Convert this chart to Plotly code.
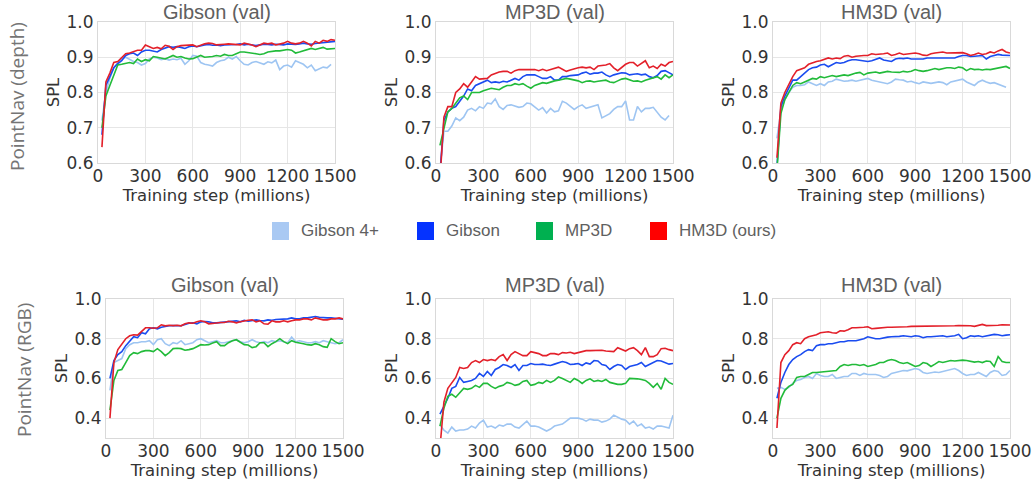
import plotly.graph_objects as go

# training steps (millions) at which each run was evaluated
STEPS = [25, 50, 75, 100, 125, 150, 175, 200, 225, 250,
         275, 300, 325, 350, 375, 400, 425, 450, 475, 500,
         525, 550, 575, 600, 625, 650, 675, 700, 725, 750,
         775, 800, 825, 850, 875, 900, 925, 950, 975, 1000,
         1025, 1050, 1075, 1100, 1125, 1150, 1175, 1200, 1225, 1250,
         1275, 1300, 1325, 1350, 1375, 1400, 1425, 1450, 1475, 1500]

METHODS = ["Gibson 4+", "Gibson", "MP3D", "HM3D (ours)"]
LINE_COLORS = ["#9ec5f2", "#1a4cf0", "#22bb3a", "#e3202a"]
LEGEND_COLORS = ["#a9c9f3", "#0533ff", "#00b050", "#ff0000"]

TITLES = ["Gibson (val)", "MP3D (val)", "HM3D (val)"]
ROW_LABELS = ["PointNav (depth)", "PointNav (RGB)"]
X_TICKS = [0, 300, 600, 900, 1200, 1500]
Y_TICKS_DEPTH = [0.6, 0.7, 0.8, 0.9, 1.0]
Y_TICKS_RGB = [0.4, 0.6, 0.8, 1.0]

# ---- PointNav (depth), Gibson val
depth_gibson_g4 = [0.720, 0.800, 0.840, 0.870, 0.885, 0.895, 0.900, 0.893, 0.888, 0.885,
                   0.878, 0.882, 0.895, 0.900, 0.898, 0.893, 0.896, 0.892, 0.895, 0.893,
                   0.897, 0.880, 0.890, 0.905, 0.903, 0.885, 0.880, 0.878, 0.875, 0.885,
                   0.890, 0.892, 0.900, 0.895, 0.902, 0.890, 0.880, 0.878, 0.885, 0.888,
                   0.885, 0.880, 0.887, 0.884, 0.892, 0.865, 0.875, 0.878, 0.872, 0.890,
                   0.885, 0.880, 0.870, 0.878, 0.862, 0.868, 0.872, 0.870, 0.880]
depth_gibson_gib = [0.680, 0.820, 0.845, 0.870, 0.882, 0.890, 0.905, 0.910, 0.912, 0.905,
                    0.915, 0.920, 0.920, 0.918, 0.915, 0.922, 0.925, 0.930, 0.928, 0.930,
                    0.928, 0.925, 0.930, 0.932, 0.930, 0.933, 0.935, 0.936, 0.934, 0.935,
                    0.933, 0.935, 0.935, 0.937, 0.936, 0.938, 0.935, 0.937, 0.934, 0.933,
                    0.935, 0.937, 0.936, 0.935, 0.937, 0.936, 0.935, 0.938, 0.937, 0.936,
                    0.938, 0.940, 0.938, 0.937, 0.939, 0.940, 0.940, 0.942, 0.944, 0.945]
depth_gibson_mp3d = [0.700, 0.790, 0.820, 0.850, 0.878, 0.880, 0.882, 0.885, 0.882, 0.895,
                     0.888, 0.893, 0.890, 0.902, 0.900, 0.898, 0.895, 0.900, 0.905, 0.900,
                     0.902, 0.898, 0.895, 0.896, 0.900, 0.905, 0.900, 0.900, 0.902, 0.905,
                     0.903, 0.908, 0.905, 0.905, 0.910, 0.915, 0.915, 0.914, 0.912, 0.910,
                     0.908, 0.910, 0.915, 0.917, 0.918, 0.918, 0.920, 0.922, 0.920, 0.912,
                     0.915, 0.918, 0.920, 0.925, 0.922, 0.925, 0.928, 0.923, 0.925, 0.925]
depth_gibson_hm3d = [0.645, 0.830, 0.855, 0.885, 0.888, 0.900, 0.910, 0.912, 0.915, 0.920,
                     0.920, 0.935, 0.930, 0.925, 0.928, 0.924, 0.934, 0.931, 0.922, 0.930,
                     0.933, 0.933, 0.934, 0.935, 0.930, 0.935, 0.938, 0.940, 0.939, 0.935,
                     0.935, 0.937, 0.938, 0.937, 0.938, 0.935, 0.940, 0.938, 0.935, 0.930,
                     0.935, 0.940, 0.938, 0.940, 0.935, 0.937, 0.940, 0.945, 0.940, 0.938,
                     0.940, 0.945, 0.940, 0.932, 0.945, 0.940, 0.948, 0.945, 0.950, 0.948]

# ---- PointNav (depth), MP3D val
depth_mp3d_g4 = [0.580, 0.690, 0.690, 0.705, 0.728, 0.720, 0.730, 0.750, 0.755, 0.748,
                 0.760, 0.755, 0.770, 0.768, 0.782, 0.760, 0.752, 0.763, 0.765, 0.762,
                 0.758, 0.760, 0.770, 0.768, 0.760, 0.750, 0.757, 0.742, 0.755, 0.745,
                 0.748, 0.775, 0.770, 0.760, 0.752, 0.760, 0.765, 0.755, 0.758, 0.760,
                 0.765, 0.728, 0.735, 0.740, 0.752, 0.760, 0.760, 0.776, 0.722, 0.722,
                 0.760, 0.745, 0.755, 0.755, 0.758, 0.745, 0.730, 0.722, 0.735]
depth_mp3d_gib = [0.570, 0.720, 0.745, 0.755, 0.760, 0.775, 0.790, 0.810, 0.805, 0.820,
                  0.825, 0.830, 0.835, 0.828, 0.830, 0.828, 0.832, 0.830, 0.835, 0.840,
                  0.835, 0.845, 0.850, 0.850, 0.850, 0.845, 0.840, 0.840, 0.845, 0.835,
                  0.835, 0.845, 0.845, 0.848, 0.850, 0.850, 0.855, 0.858, 0.852, 0.855,
                  0.855, 0.858, 0.850, 0.845, 0.850, 0.852, 0.856, 0.855, 0.850, 0.852,
                  0.853, 0.850, 0.852, 0.845, 0.842, 0.848, 0.860, 0.862, 0.855, 0.850]
depth_mp3d_mp3d = [0.650, 0.700, 0.745, 0.755, 0.770, 0.785, 0.790, 0.780, 0.800, 0.800,
                   0.800, 0.805, 0.808, 0.812, 0.810, 0.808, 0.815, 0.820, 0.820, 0.825,
                   0.822, 0.825, 0.818, 0.812, 0.820, 0.825, 0.828, 0.826, 0.830, 0.833,
                   0.835, 0.838, 0.840, 0.838, 0.836, 0.833, 0.828, 0.832, 0.833, 0.830,
                   0.832, 0.833, 0.835, 0.830, 0.828, 0.833, 0.838, 0.840, 0.835, 0.832,
                   0.833, 0.830, 0.835, 0.838, 0.840, 0.845, 0.838, 0.850, 0.842, 0.850]
depth_mp3d_hm3d = [0.550, 0.730, 0.760, 0.760, 0.800, 0.810, 0.825, 0.815, 0.830, 0.845,
                   0.838, 0.840, 0.840, 0.850, 0.855, 0.858, 0.860, 0.860, 0.855, 0.862,
                   0.865, 0.865, 0.864, 0.866, 0.865, 0.862, 0.866, 0.862, 0.865, 0.868,
                   0.872, 0.866, 0.860, 0.864, 0.868, 0.870, 0.872, 0.870, 0.872, 0.865,
                   0.875, 0.876, 0.878, 0.882, 0.870, 0.862, 0.870, 0.880, 0.885, 0.885,
                   0.875, 0.882, 0.890, 0.870, 0.875, 0.868, 0.880, 0.875, 0.885, 0.888]

# ---- PointNav (depth), HM3D val
depth_hm3d_g4 = [0.670, 0.750, 0.780, 0.800, 0.815, 0.820, 0.820, 0.822, 0.830, 0.825,
                 0.820, 0.825, 0.820, 0.830, 0.832, 0.838, 0.835, 0.832, 0.833, 0.835,
                 0.832, 0.835, 0.838, 0.840, 0.835, 0.832, 0.830, 0.828, 0.825, 0.830,
                 0.838, 0.836, 0.835, 0.830, 0.832, 0.828, 0.825, 0.830, 0.828, 0.826,
                 0.828, 0.830, 0.828, 0.822, 0.830, 0.832, 0.835, 0.838, 0.830, 0.825,
                 0.820, 0.830, 0.835, 0.830, 0.826, 0.828, 0.824, 0.818, 0.815]
depth_hm3d_gib = [0.590, 0.760, 0.790, 0.815, 0.835, 0.835, 0.845, 0.855, 0.865, 0.870,
                  0.872, 0.878, 0.880, 0.873, 0.880, 0.885, 0.883, 0.885, 0.890, 0.893,
                  0.893, 0.892, 0.890, 0.888, 0.890, 0.895, 0.898, 0.892, 0.890, 0.888,
                  0.895, 0.897, 0.896, 0.898, 0.895, 0.895, 0.896, 0.895, 0.898, 0.898,
                  0.898, 0.900, 0.900, 0.900, 0.898, 0.898, 0.902, 0.905, 0.905, 0.902,
                  0.903, 0.904, 0.905, 0.895, 0.902, 0.905, 0.908, 0.906, 0.905, 0.905]
depth_hm3d_mp3d = [0.580, 0.740, 0.780, 0.800, 0.820, 0.828, 0.825, 0.830, 0.835, 0.840,
                   0.838, 0.845, 0.842, 0.845, 0.848, 0.845, 0.847, 0.850, 0.848, 0.852,
                   0.855, 0.857, 0.850, 0.855, 0.857, 0.858, 0.855, 0.858, 0.860, 0.858,
                   0.857, 0.857, 0.860, 0.858, 0.860, 0.865, 0.862, 0.860, 0.862, 0.865,
                   0.868, 0.865, 0.868, 0.870, 0.870, 0.868, 0.872, 0.870, 0.862, 0.868,
                   0.865, 0.866, 0.864, 0.866, 0.865, 0.867, 0.870, 0.872, 0.874, 0.868]
depth_hm3d_hm3d = [0.615, 0.770, 0.800, 0.825, 0.845, 0.862, 0.866, 0.870, 0.880, 0.885,
                   0.888, 0.890, 0.895, 0.898, 0.895, 0.898, 0.896, 0.903, 0.905, 0.900,
                   0.903, 0.905, 0.905, 0.905, 0.910, 0.908, 0.908, 0.910, 0.912, 0.905,
                   0.908, 0.912, 0.908, 0.910, 0.912, 0.912, 0.910, 0.906, 0.905, 0.910,
                   0.912, 0.914, 0.915, 0.912, 0.912, 0.912, 0.912, 0.913, 0.910, 0.905,
                   0.908, 0.912, 0.908, 0.910, 0.915, 0.912, 0.918, 0.922, 0.915, 0.912]

# ---- PointNav (RGB), Gibson val
rgb_gibson_g4 = [0.540, 0.680, 0.690, 0.700, 0.750, 0.770, 0.780, 0.780, 0.785, 0.785,
                 0.790, 0.770, 0.795, 0.800, 0.775, 0.765, 0.780, 0.775, 0.790, 0.770,
                 0.775, 0.780, 0.795, 0.800, 0.790, 0.780, 0.785, 0.790, 0.780, 0.780,
                 0.785, 0.790, 0.795, 0.785, 0.780, 0.785, 0.795, 0.785, 0.780, 0.785,
                 0.780, 0.790, 0.785, 0.790, 0.785, 0.780, 0.808, 0.785, 0.790, 0.785,
                 0.780, 0.780, 0.785, 0.780, 0.790, 0.785, 0.780, 0.775, 0.780, 0.795]
rgb_gibson_gib = [0.600, 0.690, 0.720, 0.735, 0.765, 0.790, 0.810, 0.805, 0.830, 0.825,
                  0.850, 0.855, 0.850, 0.858, 0.862, 0.865, 0.866, 0.865, 0.865, 0.872,
                  0.878, 0.880, 0.875, 0.885, 0.887, 0.885, 0.880, 0.880, 0.882, 0.883,
                  0.885, 0.888, 0.890, 0.885, 0.893, 0.888, 0.890, 0.895, 0.892, 0.890,
                  0.895, 0.893, 0.897, 0.898, 0.900, 0.900, 0.905, 0.900, 0.900, 0.905,
                  0.905, 0.910, 0.912, 0.908, 0.905, 0.905, 0.905, 0.902, 0.900, 0.898]
rgb_gibson_mp3d = [0.440, 0.590, 0.640, 0.645, 0.680, 0.715, 0.730, 0.725, 0.735, 0.740,
                   0.740, 0.735, 0.750, 0.735, 0.715, 0.730, 0.750, 0.752, 0.750, 0.742,
                   0.745, 0.750, 0.760, 0.770, 0.768, 0.770, 0.778, 0.785, 0.765, 0.765,
                   0.780, 0.790, 0.795, 0.782, 0.770, 0.768, 0.755, 0.760, 0.780, 0.780,
                   0.760, 0.775, 0.785, 0.800, 0.785, 0.775, 0.790, 0.782, 0.780, 0.775,
                   0.770, 0.768, 0.775, 0.770, 0.760, 0.757, 0.800, 0.785, 0.775, 0.780]
rgb_gibson_hm3d = [0.400, 0.680, 0.745, 0.770, 0.800, 0.815, 0.820, 0.818, 0.835, 0.855,
                   0.855, 0.853, 0.855, 0.870, 0.865, 0.868, 0.866, 0.868, 0.865, 0.875,
                   0.880, 0.878, 0.885, 0.890, 0.885, 0.875, 0.877, 0.880, 0.882, 0.882,
                   0.888, 0.885, 0.880, 0.885, 0.890, 0.893, 0.895, 0.885, 0.890, 0.875,
                   0.873, 0.890, 0.885, 0.885, 0.890, 0.885, 0.890, 0.895, 0.895, 0.900,
                   0.900, 0.895, 0.905, 0.900, 0.895, 0.895, 0.900, 0.900, 0.905, 0.900]

# ---- PointNav (RGB), MP3D val
rgb_mp3d_g4 = [0.365, 0.340, 0.325, 0.355, 0.335, 0.340, 0.340, 0.345, 0.360, 0.350,
               0.375, 0.390, 0.355, 0.360, 0.350, 0.365, 0.360, 0.370, 0.370, 0.355,
               0.350, 0.370, 0.385, 0.360, 0.360, 0.355, 0.345, 0.335, 0.345, 0.360,
               0.365, 0.370, 0.385, 0.400, 0.400, 0.400, 0.395, 0.385, 0.395, 0.390,
               0.390, 0.380, 0.385, 0.395, 0.415, 0.405, 0.395, 0.390, 0.370, 0.385,
               0.360, 0.370, 0.350, 0.355, 0.345, 0.360, 0.360, 0.355, 0.350, 0.415]
rgb_mp3d_gib = [0.420, 0.460, 0.500, 0.550, 0.560, 0.605, 0.580, 0.585, 0.590, 0.600,
                0.625, 0.610, 0.635, 0.615, 0.645, 0.655, 0.670, 0.665, 0.655, 0.670,
                0.640, 0.665, 0.665, 0.675, 0.670, 0.670, 0.672, 0.668, 0.665, 0.672,
                0.680, 0.685, 0.680, 0.670, 0.672, 0.675, 0.665, 0.678, 0.672, 0.690,
                0.688, 0.670, 0.665, 0.645, 0.660, 0.670, 0.665, 0.645, 0.660, 0.665,
                0.670, 0.680, 0.660, 0.670, 0.680, 0.690, 0.688, 0.680, 0.672, 0.675]
rgb_mp3d_mp3d = [0.360, 0.450, 0.510, 0.520, 0.505, 0.525, 0.550, 0.545, 0.550, 0.565,
                 0.555, 0.575, 0.575, 0.560, 0.550, 0.560, 0.565, 0.580, 0.575, 0.565,
                 0.570, 0.585, 0.590, 0.565, 0.570, 0.580, 0.575, 0.590, 0.580, 0.590,
                 0.608, 0.600, 0.590, 0.580, 0.600, 0.590, 0.575, 0.590, 0.598, 0.585,
                 0.590, 0.585, 0.595, 0.580, 0.575, 0.570, 0.570, 0.575, 0.600, 0.600,
                 0.598, 0.595, 0.590, 0.575, 0.555, 0.575, 0.545, 0.600, 0.580, 0.570]
rgb_mp3d_hm3d = [0.250, 0.480, 0.550, 0.575, 0.605, 0.655, 0.650, 0.655, 0.680, 0.690,
                 0.680, 0.695, 0.690, 0.695, 0.690, 0.710, 0.720, 0.690, 0.720, 0.735,
                 0.725, 0.715, 0.715, 0.735, 0.730, 0.725, 0.715, 0.715, 0.725, 0.725,
                 0.720, 0.730, 0.728, 0.732, 0.725, 0.730, 0.735, 0.740, 0.740, 0.740,
                 0.740, 0.742, 0.738, 0.738, 0.735, 0.755, 0.745, 0.738, 0.750, 0.755,
                 0.740, 0.720, 0.755, 0.710, 0.710, 0.720, 0.750, 0.752, 0.745, 0.740]

# ---- PointNav (RGB), HM3D val
rgb_hm3d_g4 = [0.550, 0.555, 0.545, 0.555, 0.575, 0.590, 0.595, 0.605, 0.610, 0.600,
               0.625, 0.615, 0.610, 0.610, 0.620, 0.600, 0.605, 0.610, 0.610, 0.625,
               0.625, 0.615, 0.625, 0.620, 0.620, 0.620, 0.615, 0.605, 0.610, 0.625,
               0.630, 0.635, 0.640, 0.638, 0.645, 0.650, 0.645, 0.630, 0.625, 0.630,
               0.632, 0.630, 0.635, 0.640, 0.645, 0.650, 0.640, 0.625, 0.615, 0.620,
               0.620, 0.630, 0.620, 0.610, 0.630, 0.640, 0.635, 0.615, 0.620, 0.640]
rgb_hm3d_gib = [0.500, 0.580, 0.630, 0.670, 0.695, 0.710, 0.720, 0.735, 0.745, 0.740,
                0.765, 0.770, 0.770, 0.775, 0.775, 0.780, 0.785, 0.785, 0.790, 0.790,
                0.790, 0.795, 0.800, 0.810, 0.805, 0.800, 0.800, 0.805, 0.808, 0.810,
                0.810, 0.812, 0.815, 0.812, 0.810, 0.815, 0.812, 0.805, 0.810, 0.810,
                0.812, 0.815, 0.815, 0.810, 0.812, 0.815, 0.822, 0.800, 0.805, 0.815,
                0.812, 0.815, 0.810, 0.815, 0.820, 0.822, 0.820, 0.815, 0.818, 0.820]
rgb_hm3d_mp3d = [0.400, 0.500, 0.540, 0.560, 0.570, 0.605, 0.610, 0.610, 0.620, 0.630,
                 0.630, 0.632, 0.633, 0.635, 0.635, 0.640, 0.660, 0.670, 0.665, 0.670,
                 0.670, 0.665, 0.670, 0.660, 0.665, 0.670, 0.680, 0.680, 0.690, 0.695,
                 0.690, 0.680, 0.675, 0.680, 0.670, 0.660, 0.665, 0.680, 0.675, 0.660,
                 0.672, 0.685, 0.680, 0.685, 0.690, 0.688, 0.690, 0.692, 0.690, 0.685,
                 0.682, 0.685, 0.680, 0.688, 0.685, 0.660, 0.710, 0.685, 0.680, 0.680]
rgb_hm3d_hm3d = [0.350, 0.680, 0.720, 0.740, 0.770, 0.780, 0.775, 0.800, 0.810, 0.815,
                 0.820, 0.830, 0.832, 0.835, 0.830, 0.828, 0.840, 0.838, 0.845, 0.855,
                 0.855, 0.855, 0.858, 0.860, 0.850, 0.852, 0.855, 0.858, 0.858, 0.858,
                 0.858, 0.860, 0.860, 0.860, 0.862, 0.862, 0.862, 0.862, 0.863, 0.863,
                 0.863, 0.864, 0.864, 0.864, 0.863, 0.865, 0.866, 0.866, 0.866, 0.865,
                 0.862, 0.868, 0.872, 0.866, 0.866, 0.865, 0.868, 0.870, 0.870, 0.869]

panels = [
    [depth_gibson_g4, depth_gibson_gib, depth_gibson_mp3d, depth_gibson_hm3d],
    [depth_mp3d_g4, depth_mp3d_gib, depth_mp3d_mp3d, depth_mp3d_hm3d],
    [depth_hm3d_g4, depth_hm3d_gib, depth_hm3d_mp3d, depth_hm3d_hm3d],
    [rgb_gibson_g4, rgb_gibson_gib, rgb_gibson_mp3d, rgb_gibson_hm3d],
    [rgb_mp3d_g4, rgb_mp3d_gib, rgb_mp3d_mp3d, rgb_mp3d_hm3d],
    [rgb_hm3d_g4, rgb_hm3d_gib, rgb_hm3d_mp3d, rgb_hm3d_hm3d],
]

W, H = 1034, 480
# plot-area boxes in pixels (left, right) per row and (top, bottom) per row
X_BOXES = [[(98, 335), (436, 673), (773, 1010)],
           [(106, 343), (436, 673), (773, 1010)]]
Y_BOXES = [(22, 163), (299, 438)]

TICK_FONT = dict(family="DejaVu Sans", size=17, color="#333333")
LABEL_FONT = dict(family="DejaVu Sans", size=16.5, color="#333333")

fig = go.Figure()
layout = {}
annotations = []

for i, series in enumerate(panels):
    row, col = divmod(i, 3)
    n = i + 1
    sx = "" if n == 1 else str(n)
    for name, color, ys in zip(METHODS, LINE_COLORS, series):
        fig.add_trace(go.Scatter(
            x=STEPS[:len(ys)], y=ys, mode="lines", name=name,
            line=dict(color=color, width=1.6),
            xaxis="x" + sx, yaxis="y" + sx, showlegend=False,
        ))

    xl, xr = X_BOXES[row][col]
    yt, yb = Y_BOXES[row]
    layout["xaxis" + sx] = dict(
        domain=[xl / W, xr / W], anchor="y" + sx, range=[0, 1500],
        tickvals=X_TICKS, showgrid=True, gridcolor="#e6e6e6",
        showline=True, mirror=True, linecolor="#d9d9d9", zeroline=False,
        tickfont=TICK_FONT, automargin=False, ticklabelstandoff=-2,
        title=dict(text="Training step (millions)", font=LABEL_FONT, standoff=0),
    )
    if row == 0:
        yr, yticks = [0.6, 1.0], Y_TICKS_DEPTH
    else:
        yr, yticks = [0.3, 1.0], Y_TICKS_RGB
    layout["yaxis" + sx] = dict(
        domain=[1 - yb / H, 1 - yt / H], anchor="x" + sx, range=yr,
        tickvals=yticks, tickformat=".1f", showgrid=True, gridcolor="#e6e6e6",
        showline=True, mirror=True, linecolor="#d9d9d9", zeroline=False,
        tickfont=TICK_FONT, automargin=False,
        title=dict(text="SPL", font=LABEL_FONT, standoff=2),
    )

    # subplot title
    annotations.append(dict(
        text=TITLES[col], x=(xl + xr) / 2 / W, y=1 - (12 if row == 0 else 285) / H,
        xref="paper", yref="paper", xanchor="center", yanchor="middle",
        showarrow=False, font=dict(family="Liberation Sans", size=20, color="#606060"),
    ))

# row labels
for label, (px, py) in zip(ROW_LABELS, [(17, 97), (24, 370)]):
    annotations.append(dict(
        text=label, x=px / W, y=1 - py / H, xref="paper", yref="paper",
        xanchor="center", yanchor="middle", textangle=-90, showarrow=False,
        font=dict(family="Open Sans", size=19, color="#757575"),
    ))

# legend drawn as coloured squares + labels
shapes = []
legend_x = [272, 417, 536, 650]
for name, color, lx in zip(METHODS, LEGEND_COLORS, legend_x):
    shapes.append(dict(type="rect", xref="paper", yref="paper",
                       x0=lx / W, x1=(lx + 17) / W, y0=1 - 240 / H, y1=1 - 222 / H,
                       fillcolor=color, line=dict(width=0)))
    annotations.append(dict(
        text=name, x=(lx + 27) / W, y=1 - 231 / H, xref="paper", yref="paper",
        xanchor="left", yanchor="middle", showarrow=False,
        font=dict(family="Liberation Sans", size=17, color="#606060"),
    ))

fig.update_layout(
    width=W, height=H, margin=dict(l=0, r=0, t=0, b=0),
    plot_bgcolor="white", paper_bgcolor="white",
    annotations=annotations, shapes=shapes, showlegend=False,
    **layout,
)

# drop the browser's default body margin so the figure sits at the page corner
fig.write_html("out.html", config={"displayModeBar": False},
               post_script="document.body.style.margin='0';")
